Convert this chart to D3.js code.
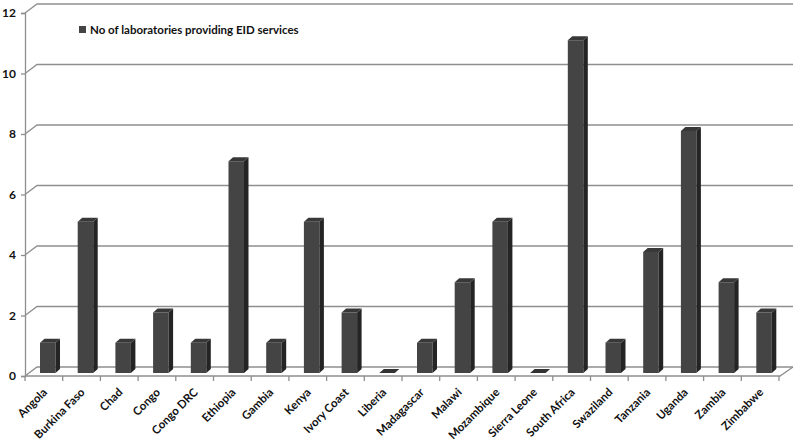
<!DOCTYPE html>
<html>
<head>
<meta charset="utf-8">
<script src="https://cdn.jsdelivr.net/npm/d3@7"></script>
<style>
  body { margin: 0; background: #fff; }
  svg text { font-family: Lato, "Open Sans", sans-serif; font-weight: 700; fill: #111; }
</style>
</head>
<body>
<svg id="chart" width="796" height="443"></svg>
<script>
// values
var countries = ["Angola", "Burkina Faso", "Chad", "Congo", "Congo DRC", "Ethiopia", "Gambia", "Kenya",
  "Ivory Coast", "Liberia", "Madagascar", "Malawi", "Mozambique", "Sierra Leone", "South Africa",
  "Swaziland", "Tanzania", "Uganda", "Zambia", "Zimbabwe"];
var labs = [1, 5, 1, 2, 1, 7, 1, 5, 2, 0, 1, 3, 5, 0, 11, 1, 4, 8, 3, 2];
var yTicks = [0, 2, 4, 6, 8, 10, 12];
var seriesName = "No of laboratories providing EID services";

chart();

function chart() {
    var svg = d3.select("#chart");

    // fake 3d: how far the back wall is pushed
    var wall = {dx: 12, dy: -9};
    // bar sits a bit into the floor depth
    var bar = {inset: 15, w: 15.5, lift: 3, dx: 4.5, dy: -4};

    var x = d3.scaleBand()
        .domain(countries)
        .range([25, 779]);

    var y = d3.scaleLinear()
        .domain([0, 12])
        .range([376, 13]);

    var grid = "#8e8e8e";

    // back wall gridlines with the slant on the left wall
    svg.append("g").selectAll("polyline")
        .data(yTicks)
        .join("polyline")
        .attr("points", d => [
            [x.range()[0], y(d)],
            [x.range()[0] + wall.dx, y(d) + wall.dy],
            [x.range()[1] + wall.dx + 2, y(d) + wall.dy]
        ].join(" "))
        .attr("fill", "none")
        .attr("stroke", grid)
        .attr("stroke-width", 1.3);

    // front floor edge
    svg.append("polyline")
        .attr("points", [
            [x.range()[0], y(0)],
            [x.range()[1] + 1, y(0)],
            [x.range()[1] + 1 + wall.dx + 1, y(0) + wall.dy]
        ].join(" "))
        .attr("fill", "none")
        .attr("stroke", grid)
        .attr("stroke-width", 1.3);

    // y axis
    var yAxis = svg.append("g")
        .attr("transform", `translate(${x.range()[0]},0)`)
        .call(d3.axisLeft(y).tickValues(yTicks).tickSize(4).tickPadding(5));
    yAxis.select(".domain").attr("stroke", grid).attr("stroke-width", 1.3);
    yAxis.selectAll(".tick line").attr("stroke", grid).attr("stroke-width", 1.3);
    yAxis.selectAll("text").attr("font-size", 12).attr("fill", "#111");

    // x ticks at band boundaries
    var bounds = countries.map(c => x(c)).concat([x.range()[1]]);
    svg.append("g").selectAll("line")
        .data(bounds)
        .join("line")
        .attr("x1", d => d).attr("x2", d => d)
        .attr("y1", y(0)).attr("y2", y(0) + 5)
        .attr("stroke", grid)
        .attr("stroke-width", 1.3);

    // x labels, rotated
    svg.append("g").selectAll("text")
        .data(countries)
        .join("text")
        .attr("transform", d => `translate(${x(d) + x.bandwidth() / 2 + 4},${y(0) + 17}) rotate(-45)`)
        .attr("text-anchor", "end")
        .attr("font-size", 11.5)
        .text(d => d);

    // bars: front, side, top
    var data = countries.map((c, i) => ({c: c, v: labs[i]}));
    var g = svg.append("g");
    var bars = g.selectAll("g.bar").data(data).join("g").attr("class", "bar");

    bars.each(function(d) {
        var sel = d3.select(this);
        var x0 = x(d.c) + bar.inset, x1 = x0 + bar.w;
        var yb = y(0) - bar.lift, yt = y(d.v) - bar.lift;
        if (d.v > 0) {
            sel.append("rect")
                .attr("x", x0).attr("y", yt)
                .attr("width", bar.w).attr("height", yb - yt)
                .attr("fill", "#444444");
            sel.append("polygon")
                .attr("points", [[x1, yt], [x1 + bar.dx, yt + bar.dy], [x1 + bar.dx, yb + bar.dy], [x1, yb]].join(" "))
                .attr("fill", "#242424");
        }
        sel.append("polygon")
            .attr("points", [[x0, yt], [x0 + bar.dx, yt + bar.dy], [x1 + bar.dx, yt + bar.dy], [x1, yt]].join(" "))
            .attr("fill", d.v > 0 ? "#383838" : "#333");
    });

    // legend
    var legend = svg.append("g").attr("transform", "translate(79,26)");
    legend.append("rect")
        .attr("width", 7).attr("height", 7)
        .attr("fill", "#444444");
    legend.append("text")
        .attr("x", 11).attr("y", 7.5)
        .attr("font-size", 11.5)
        .attr("font-weight", 400)
        .text(seriesName);
}
</script>
</body>
</html>
